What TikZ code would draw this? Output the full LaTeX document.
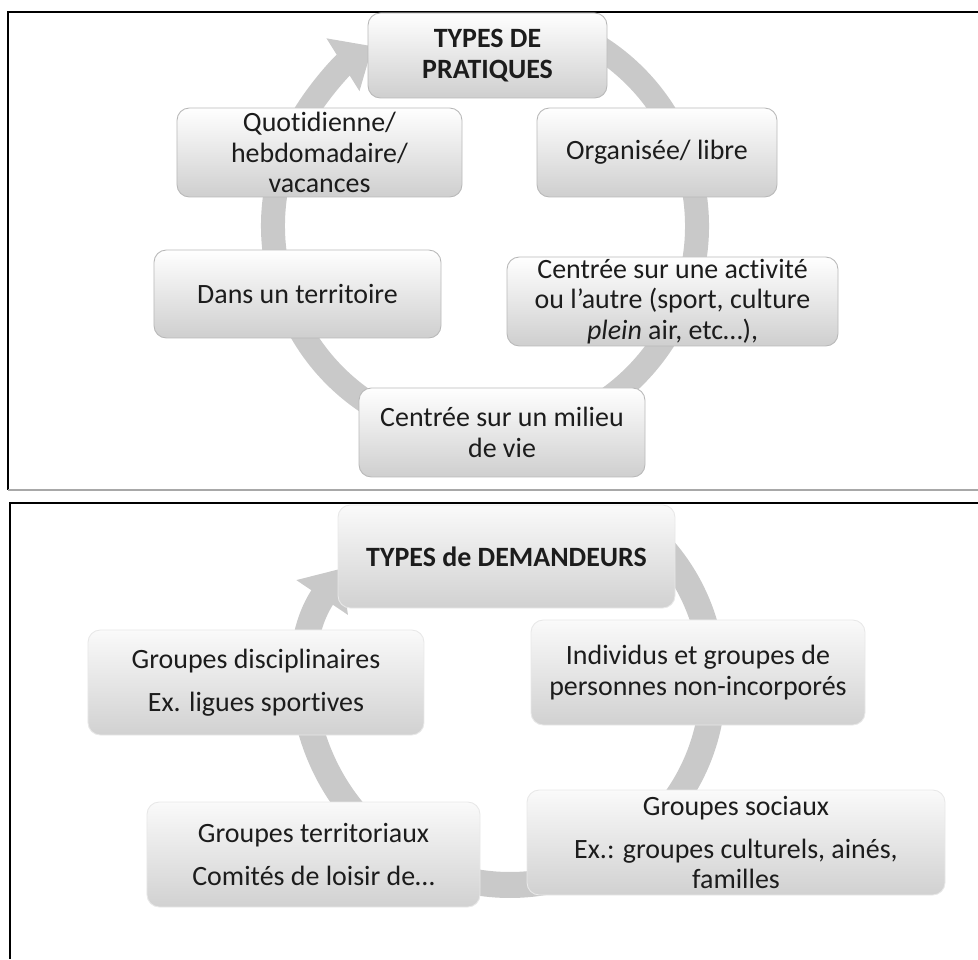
\documentclass[tikz,border=0pt]{standalone}
\usepackage{fontspec}
\setmainfont{Carlito}[Ligatures={NoCommon,NoRequired,NoContextual},Contextuals=NoAlternate]
\usetikzlibrary{arrows.meta}
\definecolor{ringgray}{HTML}{C9C9C9}
\definecolor{rulegray}{HTML}{A8A8A8}
\definecolor{txtdark}{HTML}{1C1C1C}

\tikzset{
  cyclebox/.style={rounded corners=7pt, top color=white, bottom color=gray!38,
    draw=gray!55, line width=0.5pt, align=center, inner sep=0pt, text=txtdark,
    font=\fontsize{15.9}{17.3}\selectfont},
  softbox/.style={cyclebox, top color=gray!4, bottom color=gray!36, draw=gray!18},
  ring/.style={ringgray, -{Triangle[width=1.2cm,length=0.7cm]}},
  frameline/.style={black, line width=1.6pt}
}

\begin{document}
\begin{tikzpicture}[x=0.2mm,y=0.2mm]
  \useasboundingbox (0,0) rectangle (978,959);

  % panel frames
  \draw[frameline] (978,947) -- (8,947) -- (8,469);
  \draw[rulegray,line width=1.1pt] (8,469) -- (978,469);
  \draw[frameline] (978,456) -- (10,456) -- (10,0);

  % top cycle: ring
  \coordinate (ctop) at (485,733);
  \draw[ring,line width=0.48cm] (ctop) ++(60:212) arc[start angle=60,end angle=-238,radius=212];

  % top cycle: boxes
  \node[cyclebox,minimum width=4.78cm,minimum height=1.70cm] (pra) at (487.5,903.5)
    {\textbf{TYPES DE}\\\textbf{PRATIQUES}};
  \node[cyclebox,minimum width=4.80cm,minimum height=1.78cm] (org) at (657,806.5)
    {Organisée/ libre};
  \node[cyclebox,minimum width=6.62cm,minimum height=1.78cm] (act) at (672.5,657.5)
    {Centrée sur une activité\\ou l’autre (sport, culture\\\textit{plein} air, etc…),};
  \node[cyclebox,minimum width=5.72cm,minimum height=1.78cm] (mil) at (502,526.5)
    {Centrée sur un milieu\\de vie};
  \node[cyclebox,minimum width=5.74cm,minimum height=1.76cm] (ter) at (297.5,665)
    {Dans un territoire};
  \node[cyclebox,minimum width=5.70cm,minimum height=1.78cm] (quo) at (319.5,806.5)
    {Quotidienne/\\hebdomadaire/\\vacances};

  % bottom cycle: ring
  \coordinate (cbot) at (510,277);
  \draw[ring,line width=0.52cm] (cbot) ++(48:203) arc[start angle=48,end angle=-214,radius=203];

  % bottom cycle: boxes
  \node[softbox,minimum width=6.74cm,minimum height=2.06cm] (dem) at (506.5,402.5)
    {\textbf{TYPES de DEMANDEURS}};
  \node[softbox,minimum width=6.68cm,minimum height=2.10cm] (ind) at (698,286.5)
    {Individus et groupes de\\personnes non-incorporés};
  \node[softbox,minimum width=8.36cm,minimum height=2.10cm] (soc) at (736,116.5)
    {Groupes sociaux\\[7pt]Ex.: groupes culturels, ainés,\\familles};
  \node[softbox,minimum width=6.66cm,minimum height=2.10cm] (trr) at (313.5,104.5)
    {Groupes territoriaux\\[7pt]Comités de loisir de…};
  \node[softbox,minimum width=6.72cm,minimum height=2.10cm] (dis) at (256,276.5)
    {Groupes disciplinaires\\[7pt]Ex. ligues sportives};

\end{tikzpicture}
\end{document}
